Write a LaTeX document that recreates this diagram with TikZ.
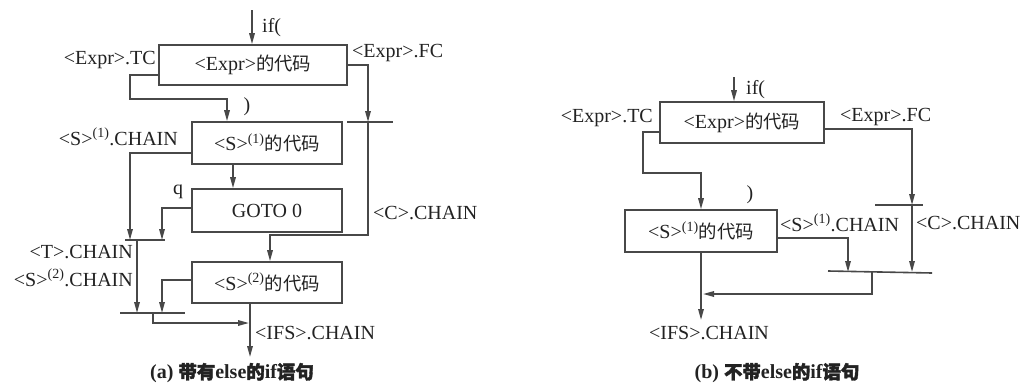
\documentclass[tikz,border=0pt]{standalone}
\usepackage{fontspec}
\setmainfont{Liberation Serif}
\newfontfamily\cjk{Noto Sans CJK SC}[Scale=0.92]
\newfontfamily\cjkbold{Noto Sans CJK SC}[Scale=0.92,FakeBold=2]
\usetikzlibrary{arrows.meta}
\newcommand{\zhtxt}[1]{{\cjk #1}}
\newcommand{\zhbold}[1]{{\cjkbold #1}}
\definecolor{ln}{HTML}{484848}
\definecolor{tx}{HTML}{222222}
\begin{document}
\begin{tikzpicture}[x=1pt,y=-1pt,
  line/.style={draw=ln,line width=1.6pt},
  arr/.style={line,-{Triangle[length=11pt,width=5.5pt]}},
  box/.style={draw=ln,line width=1.6pt,inner sep=0pt,text=tx,font=\fontsize{20}{24}\selectfont},
  lab/.style={inner sep=1pt,text=tx,font=\fontsize{20}{24}\selectfont},
  captxt/.style={lab,font=\fontsize{20}{24}\selectfont\bfseries}]
\useasboundingbox (0,0) rectangle (1027,383);
% ---------------- (a) ----------------
\node[box,minimum width=188pt,minimum height=40pt] (expra) at (253,65) {<Expr>\zhtxt{的代码}};
\node[box,minimum width=150pt,minimum height=42pt] (s1a) at (267,143) {<S>\textsuperscript{(1)}\zhtxt{的代码}};
\node[box,minimum width=150pt,minimum height=43pt] (gotoa) at (267,210.5) {GOTO 0};
\node[box,minimum width=150pt,minimum height=41pt] (s2a) at (267,282.5) {<S>\textsuperscript{(2)}\zhtxt{的代码}};
\coordinate (ina) at (252,10);
\coordinate (tca) at (130,99);
\coordinate (cA) at (368,122);
\coordinate (cbL) at (347,122);
\coordinate (cbR) at (393,122);
\coordinate (cB) at (368,235);
\coordinate (tA) at (130,240);
\coordinate (tB) at (162,240);
\coordinate (tC) at (137,240);
\coordinate (tbL) at (125,240);
\coordinate (tbR) at (165,240);
\coordinate (bA) at (137,313);
\coordinate (bB) at (162,313);
\coordinate (bC) at (153,313);
\coordinate (bD) at (249,323);
\coordinate (bbL) at (120,313);
\coordinate (bbR) at (185,313);
\coordinate (outA) at (250,357);
\draw[arr] (ina) -- (ina |- expra.north);
\draw[arr] ([yshift=-10pt]expra.west) -| (tca) -| ([xshift=-40pt]s1a.north);
\draw[arr] (expra.east) -| (cA);
\draw[line] (cbL) -- (cbR);
\draw[arr] (cA) -- (cB) -| ([xshift=3pt]s2a.north);
\draw[arr] ([xshift=-34pt]s1a.south) -- ([xshift=-34pt]gotoa.north);
\draw[arr] ([yshift=-10pt]s1a.west) -| (tA);
\draw[arr] ([yshift=2.5pt]gotoa.west) -| (tB);
\draw[line] (tbL) -- (tbR);
\draw[arr] (tC) -- (bA);
\draw[arr] ([yshift=2.5pt]s2a.west) -| (bB);
\draw[line] (bbL) -- (bbR);
\draw[arr] (bC) |- (bD);
\draw[arr] ([xshift=-17pt]s2a.south) -- (outA);
\node[lab,anchor=west] (ifa) at (261,28) {if(};
\node[lab,anchor=east] (tcla) at (157,60) {<Expr>.TC};
\node[lab,anchor=west] (fcla) at (351,53) {<Expr>.FC};
\node[lab] (rpa) at (247,107) {)};
\node[lab,anchor=east] (s1cla) at (179,137) {<S>\textsuperscript{(1)}.CHAIN};
\node[lab] (qa) at (178,192) {q};
\node[lab,anchor=east] (tcl) at (134,252) {<T>.CHAIN};
\node[lab,anchor=east] (s2cl) at (134,278) {<S>\textsuperscript{(2)}.CHAIN};
\node[lab,anchor=west] (ccla) at (372,213) {<C>.CHAIN};
\node[lab,anchor=west] (ifsa) at (254,333) {<IFS>.CHAIN};
\node[captxt] (capa) at (232,373) {(a) \zhbold{带有}else\zhbold{的}if\zhbold{语句}};
% ---------------- (b) ----------------
\node[box,minimum width=164pt,minimum height=41pt] (exprb) at (742,122.5) {<Expr>\zhtxt{的代码}};
\node[box,minimum width=152pt,minimum height=42pt] (s1b) at (701,231) {<S>\textsuperscript{(1)}\zhtxt{的代码}};
\coordinate (inb) at (734,77);
\coordinate (tcb) at (643,173);
\coordinate (cAb) at (912,205);
\coordinate (cbLb) at (875,205);
\coordinate (cbRb) at (923,205);
\coordinate (cBb) at (912,272);
\coordinate (sBb) at (848,272);
\coordinate (mb) at (872,272);
\coordinate (bbLb) at (828,271);
\coordinate (bbRb) at (932,273);
\coordinate (jb) at (703,294);
\coordinate (outb) at (701,320);
\draw[arr] (inb) -- (inb |- exprb.north);
\draw[arr] ([yshift=-9.5pt]exprb.west) -| (tcb) -| (s1b.north);
\draw[arr] ([yshift=-6.5pt]exprb.east) -| (cAb);
\draw[line] (cbLb) -- (cbRb);
\draw[arr] (cAb) -- (cBb);
\draw[arr] ([yshift=-7pt]s1b.east) -| (sBb);
\draw[line] (bbLb) -- (bbRb);
\draw[arr] (mb) |- (jb);
\draw[arr] (s1b.south) -- (outb);
\node[lab,anchor=west] (ifb) at (745,90) {if(};
\node[lab,anchor=east] (tclb) at (654,118) {<Expr>.TC};
\node[lab,anchor=west] (fclb) at (839,117) {<Expr>.FC};
\node[lab] (rpb) at (750,195) {)};
\node[lab,anchor=west] (s1clb) at (779,223) {<S>\textsuperscript{(1)}.CHAIN};
\node[lab,anchor=west] (cclb) at (915,223) {<C>.CHAIN};
\node[lab] (ifsb) at (709,333) {<IFS>.CHAIN};
\node[captxt] (capb) at (777,373) {(b) \zhbold{不带}else\zhbold{的}if\zhbold{语句}};
\end{tikzpicture}
\end{document}
